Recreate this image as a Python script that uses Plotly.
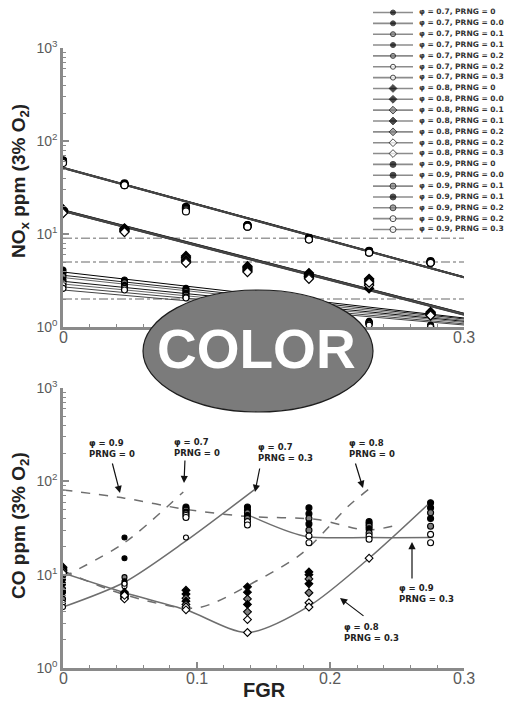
import plotly.graph_objects as go

# ---------------- data ----------------
FGR = [0, 0.046, 0.092, 0.138, 0.184, 0.229, 0.275]
FGR_FIT = [0, 0.3]
PHI = [0.7, 0.8, 0.9]
PRNG = [0, 0.05, 0.1, 0.15, 0.2, 0.25, 0.3]

# NOx (ppm, 3% O2) data points, one row per PRNG
NOX_PHI07 = [
    [4.1, 3.2, 2.6, 2.1, 1.7, 1.15, 1.05],
    [3.8, 3.1, 2.5, 2.0, 1.65, 1.13, 1.03],
    [3.5, 3.0, 2.4, 1.95, 1.6, 1.12, 1.02],
    [3.2, 2.8, 2.3, 1.9, 1.55, 1.1, 1.0],
    [3.0, 2.7, 2.2, 1.85, 1.5, 1.1, 1.0],
    [2.8, 2.6, 2.1, 1.8, 1.45, 1.08, 1.0],
    [2.6, 2.5, 2.05, 1.75, 1.4, 1.05, 1.0],
]
NOX_PHI08 = [
    [18.5, 11.5, 5.8, 4.5, 3.8, 3.3, 1.45],
    [18.0, 11.3, 5.6, 4.4, 3.7, 3.2, 1.42],
    [17.8, 11.2, 5.4, 4.3, 3.6, 3.1, 1.40],
    [17.5, 11.0, 5.2, 4.2, 3.5, 2.6, 1.38],
    [17.3, 10.8, 5.1, 4.1, 3.5, 2.9, 1.36],
    [17.0, 10.7, 5.0, 4.0, 3.4, 2.8, 1.35],
    [16.8, 10.5, 4.9, 3.9, 3.3, 3.0, 1.33],
]
NOX_PHI09 = [
    [62, 35, 19.5, 12.5, 9.1, 6.6, 5.1],
    [61, 34.5, 19.5, 12.4, 9.0, 6.5, 5.0],
    [60, 34, 19.0, 12.3, 9.0, 6.5, 5.0],
    [60, 34, 18.8, 12.2, 8.9, 6.4, 5.0],
    [59, 34, 18.5, 12.1, 8.8, 6.4, 4.9],
    [59, 33.5, 18.0, 12.0, 8.8, 6.3, 4.9],
    [58, 33.5, 17.5, 12.0, 8.7, 6.3, 4.9],
]
# fitted NOx lines, value at FGR = 0 and FGR = 0.3
NOX_FIT_PHI07 = [[3.9, 1.25], [3.6, 1.22], [3.4, 1.18], [3.1, 1.15], [2.9, 1.12], [2.7, 1.08], [2.5, 1.05]]
NOX_FIT_PHI08 = [[18.2, 1.40], [18.0, 1.39], [17.9, 1.38], [17.8, 1.37], [17.7, 1.36], [17.6, 1.35], [17.5, 1.34]]
NOX_FIT_PHI09 = [[52, 3.45], [51.8, 3.44], [51.6, 3.43], [51.4, 3.42], [51.2, 3.41], [51, 3.40], [50.8, 3.39]]
NOX_LIMITS = [9, 5, 2]

# CO (ppm, 3% O2) data points, one row per PRNG
CO_PHI07 = [
    [9.0, 25, None, None, None, None, None],
    [8.0, 15, None, None, None, None, None],
    [7.0, 9.4, None, None, None, None, None],
    [6.5, 8.5, None, None, None, None, None],
    [5.5, 8.0, None, None, None, None, None],
    [5.0, 7.5, None, None, None, None, None],
    [4.5, 8.0, 25, None, None, None, None],
]
CO_PHI08 = [
    [12.0, 6.5, 6.8, 7.4, 10.7, None, None],
    [11.5, 6.2, 6.2, 6.5, 10.0, None, None],
    [11.0, 6.0, 5.6, 5.5, 9.0, None, None],
    [10.5, 5.8, 5.2, 4.8, 8.0, None, None],
    [10.0, 5.6, 4.8, 4.0, 6.4, None, None],
    [10.0, 5.5, 4.5, 3.3, 5.0, None, None],
    [10.4, 6.0, 4.2, 2.4, 4.5, 15, None],
]
CO_PHI09 = [
    [None, None, 53, 53, 52, 37, 59],
    [None, None, 51, 49, 45, 35, 52],
    [None, None, 49, 46, 40, 33, 46],
    [None, None, 47, 43, 35, 31, 40],
    [None, None, 45, 40, 30, 28, 33],
    [None, None, 43, 37, 26, 26, 27],
    [None, None, 41, 34, 22, 24, 22],
]
# CO model curves
CO_C09_P0_X = [0, 0.046, 0.092, 0.138, 0.19, 0.227, 0.25]
CO_C09_P0_Y = [81, 66, 50, 42, 39, 30, 34]
CO_C07_P0_X = [0, 0.046, 0.09]
CO_C07_P0_Y = [9.4, 22, 77]
CO_C08_P0_X = [0, 0.046, 0.1, 0.145, 0.179, 0.214, 0.23]
CO_C08_P0_Y = [11, 6.1, 4.4, 8.6, 17, 55, 85]
CO_C07_P3_X = [0, 0.046, 0.092, 0.143]
CO_C07_P3_Y = [4.5, 8.3, 23, 81]
CO_C08_P3_X = [0, 0.046, 0.092, 0.138, 0.184, 0.229, 0.275]
CO_C08_P3_Y = [10.4, 6.4, 4.2, 2.4, 4.6, 15, 60]
CO_C09_P3_X = [0.138, 0.18, 0.229, 0.275]
CO_C09_P3_Y = [44, 26, 25, 25]

CO_LABELS = ["φ = 0.9<br>PRNG = 0", "φ = 0.7<br>PRNG = 0", "φ = 0.7<br>PRNG = 0.3",
             "φ = 0.8<br>PRNG = 0", "φ = 0.9<br>PRNG = 0.3", "φ = 0.8<br>PRNG = 0.3"]

X_TICKS = [0, 0.1, 0.2, 0.3]
X_TICKTEXT = ["0", "0.1", "0.2", "0.3"]
X_TICKS_TOP = [0, 0.3]                  # 0.1 and 0.2 labels are hidden under the overlay
X_TICKTEXT_TOP = ["0", "0.3"]
Y_TICKS = [1, 10, 100, 1000]
Y_TICKTEXT = ["10<sup>0</sup>", "10<sup>1</sup>", "10<sup>2</sup>", "10<sup>3</sup>"]

# ---------------- geometry (page pixels; the page body adds an 8 px offset) ----------------
W, H = 512, 702
OFF = 8
X0_PAGE, X1_PAGE = 63, 464          # x = 0 and x = 0.3
YB_PAGE = 668                       # bottom of the lower axis
ML = X0_PAGE - OFF
MR = W - (X1_PAGE - OFF)
MT = 0
MB = H - (YB_PAGE - OFF)
PW = W - ML - MR
PH = H - MT - MB


def py(p):  # page y -> paper fraction
    return (YB_PAGE - p) / PH


def px(p):  # page x -> paper fraction
    return (p - X0_PAGE) / PW


FONT = "Liberation Sans, Arial, sans-serif"
WIDE = "DejaVu Sans, Verdana, sans-serif"
AX_COL = "#8a8a8a"
FILL = ["black", "black", "#7f7f7f", "black", "#7f7f7f", "white", "white"]
LINECOL = ["black", "#222", "#666", "#111", "#666", "#444", "#444"]
SYMBOL = {0.7: "circle", 0.8: "diamond", 0.9: "circle"}
SIZE = {0.7: 6, 0.8: 7, 0.9: 7}

fig = go.Figure()

NOX = {0.7: (NOX_PHI07, NOX_FIT_PHI07), 0.8: (NOX_PHI08, NOX_FIT_PHI08), 0.9: (NOX_PHI09, NOX_FIT_PHI09)}
CO = {0.7: CO_PHI07, 0.8: CO_PHI08, 0.9: CO_PHI09}

# limit lines (top)
for lim in NOX_LIMITS:
    fig.add_trace(go.Scatter(x=FGR_FIT, y=[lim, lim], mode="lines", xaxis="x", yaxis="y",
                             line=dict(color="#9a9a9a", width=1.3, dash="dashdot"),
                             showlegend=False, hoverinfo="skip"))

# fit lines (top)
for phi in PHI:
    data, fit = NOX[phi]
    for j, prng in enumerate(PRNG):
        fig.add_trace(go.Scatter(x=FGR_FIT, y=fit[j], mode="lines", xaxis="x", yaxis="y",
                                 line=dict(color=LINECOL[j], width=1.4 if phi > 0.7 else 1.0),
                                 showlegend=False, hoverinfo="skip"))
# markers (top)
for phi in PHI:
    data, fit = NOX[phi]
    for j, prng in enumerate(PRNG):
        fig.add_trace(go.Scatter(x=FGR, y=data[j], mode="markers", xaxis="x", yaxis="y",
                                 marker=dict(symbol=SYMBOL[phi], size=SIZE[phi], color=FILL[j],
                                             line=dict(color="black", width=1.2)),
                                 showlegend=False))

# CO curves (bottom)
for cx, cy, dash in [(CO_C09_P0_X, CO_C09_P0_Y, "dash"), (CO_C07_P0_X, CO_C07_P0_Y, "dash"),
                     (CO_C08_P0_X, CO_C08_P0_Y, "dash"), (CO_C07_P3_X, CO_C07_P3_Y, "solid"),
                     (CO_C08_P3_X, CO_C08_P3_Y, "solid"), (CO_C09_P3_X, CO_C09_P3_Y, "solid")]:
    fig.add_trace(go.Scatter(x=cx, y=cy, mode="lines", xaxis="x2", yaxis="y2",
                             line=dict(color="#6e6e6e", width=1.5, dash=dash, shape="spline", smoothing=0.8),
                             showlegend=False, hoverinfo="skip"))
# CO markers
for phi in PHI:
    for j, prng in enumerate(PRNG):
        fig.add_trace(go.Scatter(x=FGR, y=CO[phi][j], mode="markers", xaxis="x2", yaxis="y2",
                                 marker=dict(symbol=SYMBOL[phi], size=SIZE[phi] - 1, color=FILL[j],
                                             line=dict(color="black", width=1.1)),
                                 showlegend=False))

# manual legend on its own hidden axes
rows, labels, fills, syms, sizes = [], [], [], [], []
for phi in PHI:
    for j, prng in enumerate(PRNG):
        rows.append(len(rows) + 1)
        labels.append(f"φ = {phi}, PRNG = {prng}")
        fills.append(FILL[j])
        syms.append(SYMBOL[phi])
        sizes.append(SIZE[phi] - 1)
lx, ly = [], []
for r in rows:
    lx += [0, 1, None]
    ly += [r, r, None]
fig.add_trace(go.Scatter(x=lx, y=ly, mode="lines", xaxis="x3", yaxis="y3",
                         line=dict(color="#8c8c8c", width=1.6), showlegend=False, hoverinfo="skip"))
fig.add_trace(go.Scatter(x=[0.5] * len(rows), y=rows, mode="markers", xaxis="x3", yaxis="y3",
                         marker=dict(symbol=syms, size=sizes, color=fills, line=dict(color="black", width=1)),
                         showlegend=False, hoverinfo="skip"))
fig.add_trace(go.Scatter(x=[1.15] * len(rows), y=rows, mode="text", text=labels, textposition="middle right",
                         textfont=dict(family=WIDE, size=7.5, color="#333", weight="bold"), cliponaxis=False,
                         xaxis="x3", yaxis="y3", showlegend=False, hoverinfo="skip"))

# legend axes geometry (page px): sample line 373..413, rows at ROW0 + ROWSTEP*(r-1)
LEG_X0, LEG_X1, ROW0, ROWSTEP = 373, 413, 12.5, 10.85
leg_x_range = [0, (X1_PAGE - LEG_X0) / (LEG_X1 - LEG_X0)]
leg_bottom_page = 240
leg_top_page = OFF
leg_y_range = [1 + (leg_bottom_page - ROW0) / ROWSTEP, 1 + (leg_top_page - ROW0) / ROWSTEP]

# ---------------- axes ----------------
minor_log = [m * 10 ** k for k in range(3) for m in range(2, 10)]
minor_lin = [round(0.02 * i, 2) for i in range(1, 15) if i % 5]

xbase = dict(range=[0, 0.3], showline=True, linecolor=AX_COL, linewidth=2.5, ticks="inside", ticklen=6,
             tickcolor=AX_COL, tickwidth=1.5, showgrid=False, zeroline=False,
             tickvals=X_TICKS, showticklabels=False,
             minor=dict(tickvals=minor_lin, ticks="inside", ticklen=3, tickcolor=AX_COL, tickwidth=1.2, showgrid=False))
ybase = dict(type="log", range=[0, 3], showline=True, linecolor=AX_COL, linewidth=2.5, ticks="inside", ticklen=6,
             tickcolor=AX_COL, tickwidth=1.5, showgrid=False, zeroline=False,
             tickvals=Y_TICKS, ticktext=Y_TICKTEXT,
             tickfont=dict(family=FONT, size=14, color="#5a5a5a"),
             minor=dict(tickvals=minor_log, ticks="inside", ticklen=3, tickcolor=AX_COL, tickwidth=1.2, showgrid=False))

fig.update_layout(
    width=W, height=H, margin=dict(l=ML, r=MR, t=MT, b=MB, autoexpand=False),
    paper_bgcolor="white", plot_bgcolor="rgba(0,0,0,0)", showlegend=False,
    xaxis=dict(xbase, domain=[0, 1], anchor="y"),
    yaxis=dict(ybase, domain=[py(327), py(48)], anchor="x"),
    xaxis2=dict(xbase, domain=[0, 1], anchor="y2"),
    yaxis2=dict(ybase, domain=[0, py(388)], anchor="x2"),
    xaxis3=dict(domain=[px(LEG_X0), 1], range=leg_x_range, visible=False, anchor="y3"),
    yaxis3=dict(domain=[py(leg_bottom_page), py(leg_top_page)], range=leg_y_range, visible=False, anchor="x3"),
)

# x tick labels placed just under each axis line
TICK_FONT = dict(family=FONT, size=16, color="#5a5a5a")
for v, t in zip(X_TICKS_TOP, X_TICKTEXT_TOP):
    fig.add_annotation(x=v, xref="x", y=py(337), yref="paper", text=t, showarrow=False,
                       xanchor="center", yanchor="middle", font=TICK_FONT)
for v, t in zip(X_TICKS, X_TICKTEXT):
    fig.add_annotation(x=v, xref="x2", y=py(678), yref="paper", text=t, showarrow=False,
                       xanchor="center", yanchor="middle", font=TICK_FONT)

# axis titles as annotations (page positions)
TITLE_FONT = dict(family=FONT, size=19, color="#222", weight="bold")
fig.add_annotation(xref="paper", yref="paper", x=px(20), y=py(181), text="NO<sub>x</sub> ppm (3% O<sub>2</sub>)",
                   textangle=-90, showarrow=False, xanchor="center", yanchor="middle", font=TITLE_FONT)
fig.add_annotation(xref="paper", yref="paper", x=px(20), y=py(526), text="CO ppm (3% O<sub>2</sub>)",
                   textangle=-90, showarrow=False, xanchor="center", yanchor="middle", font=TITLE_FONT)
fig.add_annotation(xref="paper", yref="paper", x=px(264), y=py(690), text="FGR",
                   showarrow=False, xanchor="center", yanchor="middle",
                   font=dict(family=FONT, size=20, color="#222", weight="bold"))

# ---------------- annotations for CO curves ----------------
XSCALE = (X1_PAGE - X0_PAGE) / 0.3
DECADE = (YB_PAGE - 388) / 3.0


def fx(p):
    return (p - X0_PAGE) / XSCALE


def fy(p):
    return (YB_PAGE - p) / DECADE


LABEL_POS = [(87, 436), (172, 435), (256, 440), (347, 436), (397, 581), (342, 620)]
ARROWS = [((120, 493), (112, 462)), ((184, 483), (185, 459)), ((255, 492), (260, 467)),
          ((363, 488), (355, 462)), ((412, 542), (412, 580)), ((340, 598), (365, 617))]
for text, (lx0, ty0) in zip(CO_LABELS, LABEL_POS):
    fig.add_annotation(x=fx(lx0), y=fy(ty0), xref="x2", yref="y2", text=text, showarrow=False,
                       xanchor="left", yanchor="top", align="left",
                       font=dict(family=WIDE, size=8.5, color="#222", weight="bold"))
for (hx, hy), (tx, ty) in ARROWS:
    fig.add_annotation(x=fx(hx), y=fy(hy), xref="x2", yref="y2", text="", showarrow=True,
                       ax=tx - hx, ay=ty - hy, arrowhead=2, arrowsize=1.2, arrowwidth=1.2,
                       arrowcolor="#111", standoff=0)

# ---------------- COLOR overlay ----------------
fig.add_shape(type="circle", xref="paper", yref="paper", x0=px(143), x1=px(373), y0=py(412), y1=py(290),
              fillcolor="#7b7b7b", line=dict(color="#1e1e1e", width=1.2), layer="above")
fig.add_annotation(xref="paper", yref="paper", x=px(256), y=py(349), text="COLOR", showarrow=False,
                   xanchor="center", yanchor="middle",
                   font=dict(family=FONT, size=55, color="white", weight="bold"))

fig.write_html("out.html")
